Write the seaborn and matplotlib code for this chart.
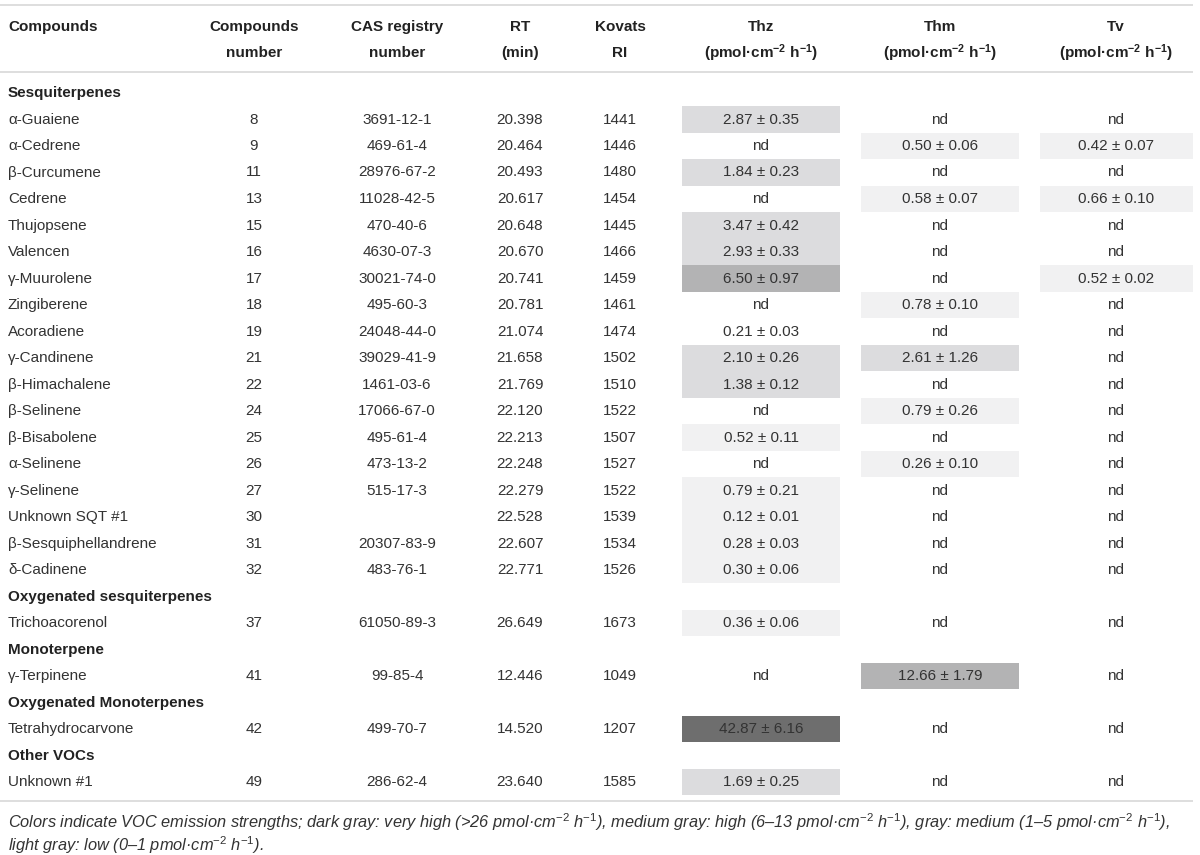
import matplotlib
matplotlib.use('Agg')

import matplotlib.pyplot as plt
import seaborn as sns
import pandas as pd
import numpy as np
from matplotlib.colors import ListedColormap

# table data
groups = ['Sesquiterpenes', 'Oxygenated sesquiterpenes', 'Monoterpene',
          'Oxygenated Monoterpenes', 'Other VOCs']
group_sizes = [18, 1, 1, 1, 1]

names = ['α-Guaiene', 'α-Cedrene', 'β-Curcumene', 'Cedrene', 'Thujopsene', 'Valencen',
         'γ-Muurolene', 'Zingiberene', 'Acoradiene', 'γ-Candinene', 'β-Himachalene',
         'β-Selinene', 'β-Bisabolene', 'α-Selinene', 'γ-Selinene', 'Unknown SQT #1',
         'β-Sesquiphellandrene', 'δ-Cadinene', 'Trichoacorenol', 'γ-Terpinene',
         'Tetrahydrocarvone', 'Unknown #1']
numbers = ['8', '9', '11', '13', '15', '16', '17', '18', '19', '21', '22', '24', '25',
           '26', '27', '30', '31', '32', '37', '41', '42', '49']
cas = ['3691-12-1', '469-61-4', '28976-67-2', '11028-42-5', '470-40-6', '4630-07-3',
       '30021-74-0', '495-60-3', '24048-44-0', '39029-41-9', '1461-03-6', '17066-67-0',
       '495-61-4', '473-13-2', '515-17-3', '', '20307-83-9', '483-76-1', '61050-89-3',
       '99-85-4', '499-70-7', '286-62-4']
rt = ['20.398', '20.464', '20.493', '20.617', '20.648', '20.670', '20.741', '20.781',
      '21.074', '21.658', '21.769', '22.120', '22.213', '22.248', '22.279', '22.528',
      '22.607', '22.771', '26.649', '12.446', '14.520', '23.640']
kovats = ['1441', '1446', '1480', '1454', '1445', '1466', '1459', '1461', '1474', '1502',
          '1510', '1522', '1507', '1527', '1522', '1539', '1534', '1526', '1673', '1049',
          '1207', '1585']
thz = ['2.87 ± 0.35', 'nd', '1.84 ± 0.23', 'nd', '3.47 ± 0.42', '2.93 ± 0.33',
       '6.50 ± 0.97', 'nd', '0.21 ± 0.03', '2.10 ± 0.26', '1.38 ± 0.12', 'nd',
       '0.52 ± 0.11', 'nd', '0.79 ± 0.21', '0.12 ± 0.01', '0.28 ± 0.03', '0.30 ± 0.06',
       '0.36 ± 0.06', 'nd', '42.87 ± 6.16', '1.69 ± 0.25']
thm = ['nd', '0.50 ± 0.06', 'nd', '0.58 ± 0.07', 'nd', 'nd', 'nd', '0.78 ± 0.10', 'nd',
       '2.61 ± 1.26', 'nd', '0.79 ± 0.26', 'nd', '0.26 ± 0.10', 'nd', 'nd', 'nd', 'nd',
       'nd', '12.66 ± 1.79', 'nd', 'nd']
tv = ['nd', '0.42 ± 0.07', 'nd', '0.66 ± 0.10', 'nd', 'nd', '0.52 ± 0.02', 'nd', 'nd',
      'nd', 'nd', 'nd', 'nd', 'nd', 'nd', 'nd', 'nd', 'nd', 'nd', 'nd', 'nd', 'nd']

# emission strength shading: 0 low, 1 medium, 2 high, 3 very high, '' none
thz_level = [1, '', 1, '', 1, 1, 2, '', '', 1, 1, '', 0, '', 0, 0, 0, 0, 0, '', 3, 1]
thm_level = ['', 0, '', 0, '', '', '', 0, '', 1, '', 0, '', 0, '', '', '', '', '', 2, '', '']
tv_level = ['', 0, '', 0, '', '', 0, '', '', '', '', '', '', '', '', '', '', '', '', '', '', '']

level_colors = ['#f1f1f2', '#dcdcde', '#b3b3b4', '#6e6e6e']

header_top = ['Compounds', 'Compounds', 'CAS registry', 'RT', 'Kovats', 'Thz', 'Thm', 'Tv']
unit = r'(pmol·cm$^{\mathbf{-2}}$ h$^{\mathbf{-1}}$)'
header_bottom = ['', 'number', 'number', '(min)', 'RI', unit, unit, unit]

sup = r'pmol·cm$^{\mathit{-2}}$ h$^{\mathit{-1}}$'
caption_lines = [
    'Colors indicate VOC emission strengths; dark gray: very high (>26 ' + sup +
    '), medium gray: high (6–13 ' + sup + '), gray: medium (1–5 ' + sup + '),',
    'light gray: low (0–1 ' + sup + ').',
]


def build_rows():
    # one entry per table row: ('group', name) or ('item', compound index)
    rows = []
    k = 0
    for g, n in zip(groups, group_sizes):
        rows.append(('group', g))
        for _ in range(n):
            rows.append(('item', k))
            k += 1
    return rows


def main():
    sns.set_theme(style='white')
    plt.rcParams['font.family'] = ['Liberation Sans', 'DejaVu Sans']
    plt.rcParams['mathtext.fontset'] = 'custom'
    plt.rcParams['mathtext.rm'] = 'Liberation Sans'
    plt.rcParams['mathtext.bf'] = 'Liberation Sans:bold'
    plt.rcParams['mathtext.it'] = 'Liberation Sans:italic'

    W, H = 1200, 855
    fig = plt.figure(figsize=(W / 100, H / 100), dpi=100)

    rows = build_rows()
    y0, dy = 93.0, 26.5
    n_rows = len(rows)

    # text anchors per column and the shaded cell extents
    col_x = [8, 254, 397, 520, 620, 761, 940, 1116]
    cell_left = [682, 861, 1040]
    cell_w = [158, 158, 153]

    # shaded cells drawn as one-column heatmaps
    cmap = ListedColormap(level_colors)
    for lev, left, w in zip([thz_level, thm_level, tv_level], cell_left, cell_w):
        vals = np.full((n_rows, 1), np.nan)
        for r, (kind, v) in enumerate(rows):
            if kind == 'item' and lev[v] != '':
                vals[r, 0] = lev[v]
        top = y0 - dy / 2
        bottom = y0 + (n_rows - 1) * dy + dy / 2
        hax = fig.add_axes([left / W, 1 - bottom / H, w / W, (bottom - top) / H])
        sns.heatmap(pd.DataFrame(vals), ax=hax, cmap=cmap, vmin=-0.5, vmax=3.5,
                    mask=np.isnan(vals), cbar=False, xticklabels=False, yticklabels=False)
        hax.set_zorder(0)
        hax.axis('off')

    ax = fig.add_axes([0, 0, 1, 1])
    ax.set_xlim(0, W)
    ax.set_ylim(H, 0)
    ax.axis('off')
    ax.set_zorder(1)
    ax.patch.set_alpha(0)

    txt = '#333333'
    fs = 11

    # rules
    for yl in [5.5, 72, 801]:
        ax.plot([0, 1193], [yl, yl], color='#d8d8d8', lw=1.2, solid_capstyle='butt')

    # header
    for j, (a, b) in enumerate(zip(header_top, header_bottom)):
        ha = 'left' if j == 0 else 'center'
        ax.text(col_x[j], 27, a, ha=ha, va='center', fontsize=fs, fontweight='bold', color='#222222')
        if b:
            ax.text(col_x[j], 53, b, ha=ha, va='center', fontsize=fs, fontweight='bold', color='#222222')

    # body
    for r, (kind, v) in enumerate(rows):
        y = y0 + r * dy
        if kind == 'group':
            ax.text(col_x[0], y, v, ha='left', va='center', fontsize=fs,
                    fontweight='bold', color='#222222')
            continue
        cells = [names[v], numbers[v], cas[v], rt[v], kovats[v], thz[v], thm[v], tv[v]]
        for j, c in enumerate(cells):
            ha = 'left' if j == 0 else 'center'
            ax.text(col_x[j], y, c, ha=ha, va='center', fontsize=fs, color=txt)

    for i, line in enumerate(caption_lines):
        ax.text(8, 822 + i * 23, line, ha='left', va='center', fontsize=11.8,
                style='italic', color=txt)

    fig.savefig('out.png', dpi=100)


if __name__ == "__main__":
    main()
